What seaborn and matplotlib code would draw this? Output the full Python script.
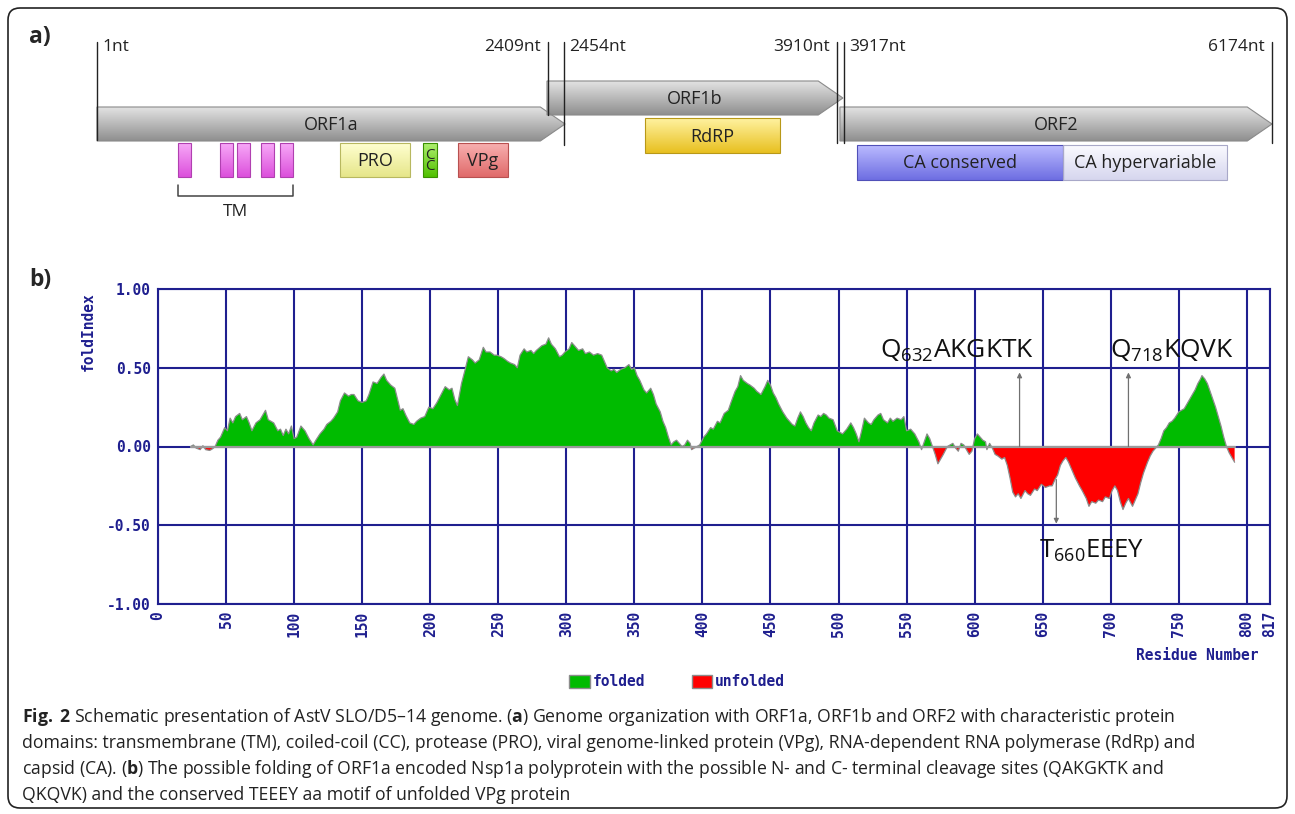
import numpy as np
import matplotlib
matplotlib.use("Agg")
import matplotlib.pyplot as plt
import seaborn as sns
from matplotlib.patches import Polygon, Rectangle, Patch, FancyBboxPatch
from matplotlib.colors import LinearSegmentedColormap

sns.set_theme(style="white")
plt.rcParams['font.family'] = ['Open Sans', 'DejaVu Sans']
plt.rcParams['mathtext.fontset'] = 'custom'
plt.rcParams['mathtext.rm'] = 'Open Sans'
plt.rcParams['mathtext.bf'] = 'Open Sans:bold'
plt.rcParams['mathtext.it'] = 'Open Sans:italic'

# ---- panel b data: FoldIndex profile ----
residue = [24, 26, 28, 31, 33, 35, 38, 40, 42, 44, 46, 49, 51, 53, 55, 57, 60, 62, 65, 67,
           69, 72, 75, 79, 81, 85, 88, 90, 92, 94, 96, 98, 100, 102, 105, 108, 111, 114, 116, 119,
           122, 124, 127, 129, 132, 134, 137, 140, 142, 144, 147, 150, 153, 155, 158, 161, 164, 166, 168, 171,
           174, 176, 178, 180, 182, 185, 188, 190, 193, 196, 199, 202, 205, 208, 211, 214, 216, 218, 220, 223,
           226, 228, 231, 233, 236, 239, 241, 244, 247, 249, 252, 254, 257, 259, 262, 264, 266, 269, 271, 274,
           276, 278, 282, 285, 287, 289, 292, 295, 297, 299, 302, 304, 306, 309, 312, 314, 317, 320, 323, 326,
           328, 330, 333, 335, 337, 340, 343, 346, 348, 350, 352, 354, 357, 359, 362, 364, 366, 369, 371, 373,
           375, 377, 379, 381, 383, 385, 387, 389, 391, 392, 394, 396, 398, 401, 403, 406, 408, 411, 413, 416,
           419, 421, 424, 426, 428, 430, 433, 435, 438, 440, 443, 446, 448, 450, 452, 454, 456, 459, 462, 464,
           466, 468, 470, 472, 474, 476, 478, 480, 482, 485, 487, 489, 491, 493, 496, 499, 501, 503, 506, 509,
           511, 513, 515, 517, 519, 522, 524, 526, 529, 531, 533, 536, 538, 540, 543, 546, 548, 550, 553, 556,
           559, 561, 563, 565, 567, 569, 571, 573, 575, 577, 580, 582, 584, 586, 588, 590, 592, 594, 596, 598,
           600, 602, 604, 606, 608, 609, 611, 613, 615, 617, 620, 622, 624, 626, 628, 630, 632, 634, 637, 639,
           641, 644, 646, 649, 652, 655, 657, 659, 661, 663, 665, 667, 669, 671, 674, 677, 679, 682, 684, 686,
           689, 691, 694, 696, 699, 701, 703, 705, 707, 709, 711, 713, 716, 718, 720, 722, 724, 727, 729, 731,
           733, 735, 737, 739, 741, 743, 745, 747, 750, 752, 754, 756, 758, 760, 762, 764, 766, 767, 769, 771,
           773, 775, 777, 779, 781, 783, 785, 787, 789, 791]
fold_index = [0.0, 0.01, -0.01, -0.02, 0.005, -0.02, -0.025, -0.015, 0.0, 0.04, 0.06, 0.12, 0.10, 0.18, 0.15, 0.19, 0.21, 0.17, 0.19, 0.15,
              0.10, 0.15, 0.17, 0.23, 0.17, 0.15, 0.10, 0.11, 0.07, 0.11, 0.08, 0.13, 0.05, 0.06, 0.13, 0.10, 0.05, 0.01, 0.04, 0.08,
              0.11, 0.14, 0.16, 0.18, 0.22, 0.29, 0.34, 0.32, 0.33, 0.33, 0.29, 0.28, 0.29, 0.33, 0.41, 0.40, 0.44, 0.46, 0.42, 0.39,
              0.37, 0.30, 0.23, 0.24, 0.20, 0.15, 0.14, 0.16, 0.18, 0.19, 0.25, 0.24, 0.28, 0.33, 0.38, 0.36, 0.37, 0.30, 0.26, 0.40,
              0.50, 0.57, 0.55, 0.53, 0.55, 0.63, 0.60, 0.60, 0.58, 0.58, 0.57, 0.56, 0.54, 0.53, 0.52, 0.50, 0.58, 0.62, 0.60, 0.61,
              0.59, 0.61, 0.64, 0.65, 0.69, 0.65, 0.62, 0.57, 0.58, 0.60, 0.62, 0.66, 0.64, 0.61, 0.62, 0.59, 0.60, 0.58, 0.59, 0.58,
              0.54, 0.50, 0.48, 0.49, 0.47, 0.49, 0.50, 0.52, 0.49, 0.50, 0.45, 0.42, 0.36, 0.34, 0.37, 0.33, 0.27, 0.22, 0.16, 0.12,
              0.06, 0.01, 0.03, 0.04, 0.02, 0.0, 0.01, 0.04, 0.02, -0.02, -0.01, 0.0, 0.01, 0.06, 0.08, 0.12, 0.11, 0.16, 0.15, 0.21,
              0.23, 0.28, 0.35, 0.38, 0.45, 0.42, 0.40, 0.39, 0.37, 0.35, 0.33, 0.38, 0.42, 0.39, 0.34, 0.31, 0.27, 0.22, 0.18, 0.16,
              0.14, 0.13, 0.18, 0.22, 0.19, 0.15, 0.12, 0.10, 0.15, 0.20, 0.19, 0.21, 0.20, 0.18, 0.17, 0.10, 0.09, 0.08, 0.11, 0.15,
              0.12, 0.08, 0.03, 0.10, 0.18, 0.15, 0.14, 0.17, 0.20, 0.21, 0.17, 0.15, 0.18, 0.16, 0.18, 0.17, 0.19, 0.10, 0.11, 0.08,
              0.03, -0.02, 0.03, 0.08, 0.05, 0.0, -0.05, -0.11, -0.08, -0.05, 0.0, 0.01, 0.02, -0.01, -0.03, 0.02, 0.01, -0.02, -0.05, -0.03,
              0.05, 0.08, 0.06, 0.04, 0.03, -0.02, 0.02, -0.01, -0.05, -0.06, -0.08, -0.07, -0.12, -0.20, -0.29, -0.32, -0.30, -0.33, -0.28, -0.30,
              -0.31, -0.27, -0.28, -0.24, -0.26, -0.25, -0.25, -0.21, -0.18, -0.12, -0.09, -0.07, -0.10, -0.14, -0.20, -0.25, -0.28, -0.33, -0.38, -0.35,
              -0.36, -0.34, -0.35, -0.32, -0.33, -0.28, -0.25, -0.28, -0.35, -0.40, -0.36, -0.33, -0.38, -0.34, -0.30, -0.23, -0.17, -0.10, -0.06, -0.03,
              -0.01, 0.01, 0.05, 0.10, 0.12, 0.15, 0.16, 0.18, 0.22, 0.23, 0.24, 0.27, 0.30, 0.33, 0.36, 0.40, 0.43, 0.45, 0.43, 0.40,
              0.35, 0.30, 0.25, 0.19, 0.13, 0.06, 0.0, -0.04, -0.07, -0.10]
x_ticks = [0, 50, 100, 150, 200, 250, 300, 350, 400, 450, 500, 550, 600, 650, 700, 750, 800, 817]
y_ticks = [-1.0, -0.5, 0.0, 0.5, 1.0]
y_tick_labels = ['-1.00', '-0.50', '0.00', '0.50', '1.00']

# cleavage sites / motif
site_res = [633, 713, 660]
site_labels = [r'Q$_{632}$AKGKTK', r'Q$_{718}$KQVK', r'T$_{660}$EEEY']

# ---- panel a data: genome schematic, positions in nt as drawn ----
orf_names = ['ORF1a', 'ORF1b', 'ORF2']
orf_start = [1, 2365, 3904]
orf_end = [2460, 3920, 6174]
tm_start = [427, 647, 736, 863, 962]
tm_end = [495, 715, 805, 931, 1031]
dom_names = ['PRO', 'C\nC', 'VPg', 'RdRP', 'CA conserved', 'CA hypervariable']
dom_start = [1278, 1714, 1898, 2880, 3994, 5076]
dom_end = [1645, 1787, 2160, 3589, 5076, 5938]
mark_nt = [1, 2370, 2454, 3889, 3925, 6174]
mark_labels = ['1nt', '2409nt', '2454nt', '3910nt', '3917nt', '6174nt']

navy = '#1f1f8f'
mono = dict(family='DejaVu Sans Mono', weight='bold', color=navy, size=10.5)

fig = plt.figure(figsize=(12.95, 8.14), dpi=100)

# background frame
bg = fig.add_axes([0, 0, 1, 1])
bg.set_xlim(0, 1295)
bg.set_ylim(814, 0)
bg.axis('off')
bg.add_patch(FancyBboxPatch((8, 8), 1279, 800, boxstyle='round,pad=0,rounding_size=12',
                            fc='none', ec='#222222', lw=1.2))


def grad_patch(ax, patch, x0, x1, y0, y1, c_top, c_bot, z=2):
    patch.set_zorder(z + 0.5)
    ax.add_patch(patch)
    cmap = LinearSegmentedColormap.from_list('g', [c_top, c_bot])
    grad = np.linspace(0, 1, 64).reshape(-1, 1)
    im = ax.imshow(grad, cmap=cmap, extent=[x0, x1, y1, y0], aspect='auto',
                   origin='upper', zorder=z, interpolation='bilinear')
    im.set_clip_path(patch)


# ---- panel a ----
px2nt = 6173 / 1175.0
axa = fig.add_axes([0, 1 - 250 / 814, 1, 250 / 814])
axa.axis('off')

orf_rows = [(107, 141), (81, 115), (107, 141)]
head = 130
for name, s, e, (yt, yb) in zip(orf_names, orf_start, orf_end, orf_rows):
    ym = (yt + yb) / 2
    poly = Polygon([(s, yt), (e - head, yt), (e, ym), (e - head, yb), (s, yb)],
                   closed=True, fc='none', ec='#8a8a8a', lw=0.8)
    grad_patch(axa, poly, s, e, yt, yb, '#e2e2e2', '#8f8f8f')
    axa.text((s + e) / 2, ym + 1, name, ha='center', va='center', fontsize=13, color='#222222', zorder=5)

for s, e in zip(tm_start, tm_end):
    r = Rectangle((s, 143), e - s, 34, fc='none', ec='#b040b0', lw=0.8)
    grad_patch(axa, r, s, e, 143, 177, '#f7a8f7', '#dc50dc')

# TM bracket
axa.plot([tm_start[0], tm_start[0], tm_end[-1], tm_end[-1]], [185, 196, 196, 185], color='#444444', lw=1.1)
axa.text((tm_start[0] + tm_end[-1]) / 2, 212, 'TM', ha='center', va='center', fontsize=12.5, color='#222222')

dom_rows = [(143, 177), (143, 177), (143, 177), (118, 153), (145, 180), (145, 180)]
dom_cols = [('#ffffd0', '#e6e68a', '#b8b860'), ('#b0f070', '#50c000', '#3a9000'),
            ('#f8b0b0', '#e06a6a', '#b85050'), ('#fff2a0', '#e8c020', '#b89818'),
            ('#babaff', '#6e6ee2', '#5050b8'), ('#fafaff', '#d6d6ee', '#a8a8c8')]
for name, s, e, (yt, yb), (ct, cb, ce) in zip(dom_names, dom_start, dom_end, dom_rows, dom_cols):
    r = Rectangle((s, yt), e - s, yb - yt, fc='none', ec=ce, lw=0.8)
    grad_patch(axa, r, s, e, yt, yb, ct, cb)
    fs = 11 if '\n' in name else 13
    axa.text((s + e) / 2, (yt + yb) / 2 + 1, name, ha='center', va='center', fontsize=fs,
             color='#222222', zorder=5, linespacing=0.7)

mark_ybot = [140, 115, 145, 143, 143, 143]
mark_side = ['right', 'left', 'right', 'left', 'right', 'left']
for nt, lab, yb, side in zip(mark_nt, mark_labels, mark_ybot, mark_side):
    axa.plot([nt, nt], [42, yb], color='#222222', lw=1.0, zorder=6)
    if side == 'right':
        axa.text(nt + 5 * px2nt, 47, lab, ha='left', va='center', fontsize=12.5, color='#222222')
    else:
        axa.text(nt - 7 * px2nt, 47, lab, ha='right', va='center', fontsize=12.5, color='#222222')

axa.set_xlim(1 - 97 * px2nt, 1 + (1295 - 97) * px2nt)
axa.set_ylim(250, 0)

fig.text(40 / 1295, 1 - 37 / 814, 'a)', ha='center', va='center', fontsize=16.5, fontweight='bold')
fig.text(40 / 1295, 1 - 280 / 814, 'b)', ha='center', va='center', fontsize=16.5, fontweight='bold')

# ---- panel b ----
ax = fig.add_axes([158 / 1295, 1 - 604 / 814, (1270 - 158) / 1295, (604 - 289) / 814])
res = np.array(residue)
fi = np.array(fold_index)
ax.fill_between(res, 0, fi, where=fi >= 0, interpolate=True, color='#00bb00', lw=0, zorder=3)
ax.fill_between(res, 0, fi, where=fi < 0, interpolate=True, color='#ff0000', lw=0, zorder=3)
sns.lineplot(x=res, y=fi, ax=ax, color='#8c8c8c', lw=0.9, zorder=4)
ax.plot([res[0], res[-1]], [0, 0], color='#9a9a9a', lw=1.6, zorder=4)

ax.set_xlim(0, 817)
ax.set_ylim(-1, 1)
ax.set_xticks(x_ticks)
ax.set_xticklabels([str(t) for t in x_ticks], rotation=90, fontdict=mono)
ax.set_yticks(y_ticks)
ax.set_yticklabels(y_tick_labels, fontdict=mono)
ax.tick_params(length=0, pad=5)
ax.grid(True, color=navy, lw=1.5)
ax.set_axisbelow(True)
for sp in ax.spines.values():
    sp.set_color(navy)
    sp.set_linewidth(1.5)
ax.set_xlabel('')
ax.set_ylabel('')

arrow_kw = dict(arrowstyle='-|>', color='#707070', lw=0.9, mutation_scale=7, shrinkA=0, shrinkB=0)
ax.annotate('', xy=(site_res[0], 0.47), xytext=(site_res[0], 0.0), arrowprops=arrow_kw, zorder=6)
ax.annotate('', xy=(site_res[1], 0.47), xytext=(site_res[1], 0.0), arrowprops=arrow_kw, zorder=6)
ax.annotate('', xy=(site_res[2], -0.49), xytext=(site_res[2], -0.21), arrowprops=arrow_kw, zorder=6)
ax.text(587, 0.61, site_labels[0], ha='center', va='center', fontsize=19, color='#111111', zorder=7)
ax.text(745, 0.61, site_labels[1], ha='center', va='center', fontsize=19, color='#111111', zorder=7)
ax.text(686, -0.66, site_labels[2], ha='center', va='center', fontsize=18.5, color='#111111', zorder=7)

fig.text(88 / 1295, 1 - 332 / 814, 'foldIndex', rotation=90, ha='center', va='center', **mono)
fig.text(1258 / 1295, 1 - 655 / 814, 'Residue Number', ha='right', va='center', **mono)

fig.legend(handles=[Patch(fc='#00bb00', ec='#8c8c8c'), Patch(fc='#ff0000', ec='#8c8c8c')],
           labels=['folded', 'unfolded'], loc='center', bbox_to_anchor=(677 / 1295, 1 - 682 / 814),
           ncol=2, frameon=False, prop=dict(family='DejaVu Sans Mono', weight='bold', size=10.5),
           labelcolor=navy, handlelength=1.4, handleheight=1.0, handletextpad=0.2, columnspacing=3.2)

# ---- caption ----
caption = [r'$\bf{Fig.}$ $\bf{2}$ Schematic presentation of AstV SLO/D5–14 genome. ($\bf{a}$) Genome organization with ORF1a, ORF1b and ORF2 with characteristic protein',
           'domains: transmembrane (TM), coiled-coil (CC), protease (PRO), viral genome-linked protein (VPg), RNA-dependent RNA polymerase (RdRp) and',
           r'capsid (CA). ($\bf{b}$) The possible folding of ORF1a encoded Nsp1a polyprotein with the possible N- and C- terminal cleavage sites (QAKGKTK and',
           'QKQVK) and the conserved TEEEY aa motif of unfolded VPg protein']
for i, line in enumerate(caption):
    fig.text(22 / 1295, 1 - (717 + 26 * i) / 814, line, ha='left', va='center',
             fontsize=12.7, color='#222222')

fig.savefig('out.png', dpi=100)
